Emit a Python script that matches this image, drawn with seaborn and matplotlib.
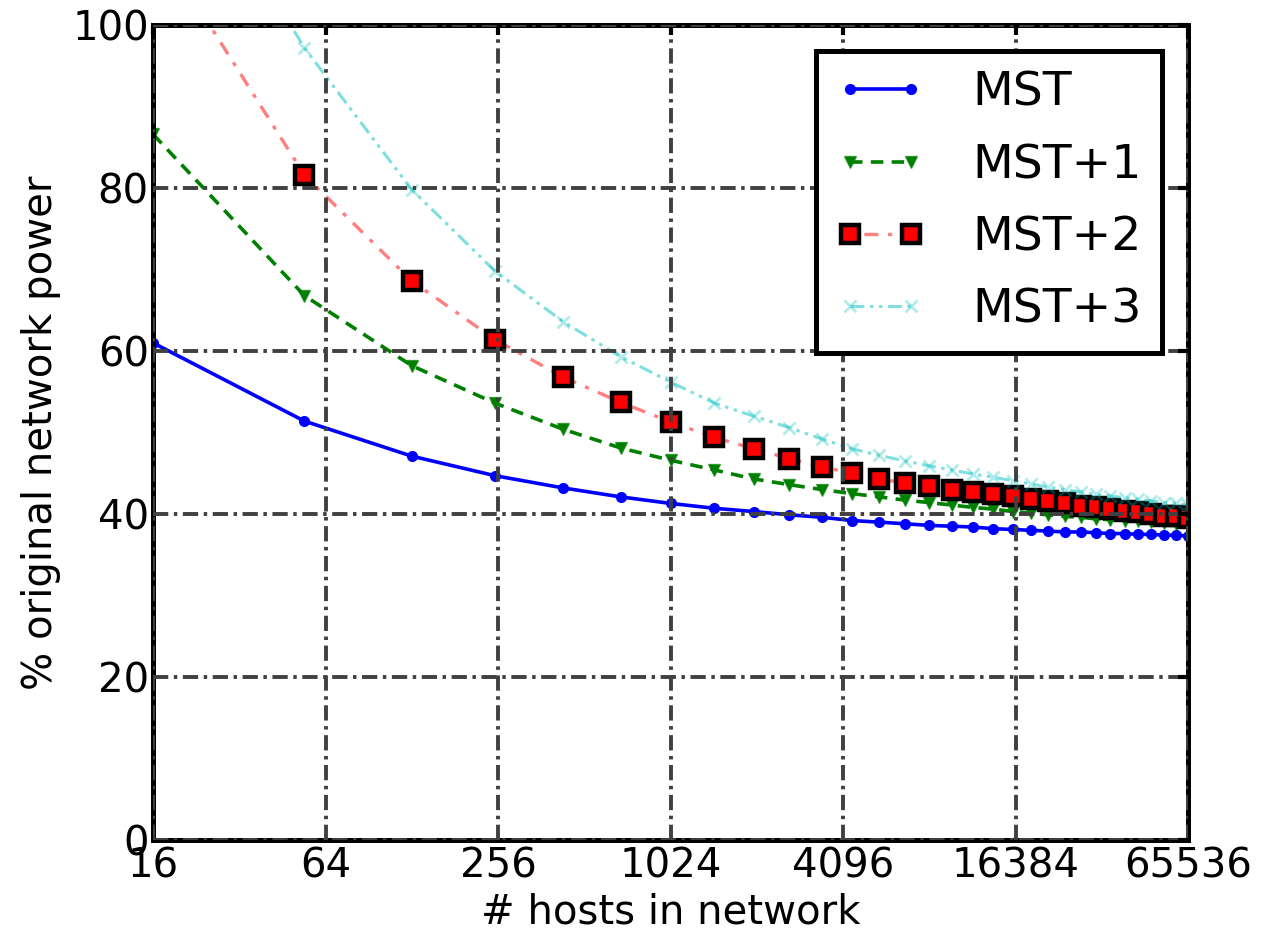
import matplotlib
matplotlib.use('Agg')
import matplotlib.pyplot as plt
import seaborn as sns
from matplotlib.ticker import FixedLocator, FixedFormatter, NullLocator

# ---------------- data ----------------
hosts = [16, 54, 128, 250, 432, 686, 1024, 1458, 2000, 2662, 3456, 4394, 5488,
         6750, 8192, 9826, 11664, 13718, 16000, 18522, 21296, 24334, 27648,
         31250, 35152, 39366, 43904, 48778, 54000, 59582, 65536]

mst = [61.0, 51.4, 47.1, 44.7, 43.2, 42.1, 41.3, 40.7, 40.3, 39.9, 39.6, 39.2,
       39.0, 38.8, 38.6, 38.5, 38.4, 38.2, 38.1, 38.0, 37.9, 37.8, 37.8, 37.7,
       37.6, 37.6, 37.5, 37.5, 37.4, 37.4, 37.3]
mst1 = [86.6, 66.8, 58.2, 53.6, 50.4, 48.1, 46.6, 45.4, 44.3, 43.6, 43.0, 42.5,
        42.1, 41.7, 41.4, 41.1, 40.8, 40.6, 40.3, 40.1, 39.9, 39.7, 39.6, 39.4,
        39.3, 39.2, 39.1, 39.0, 38.9, 38.8, 38.7]
mst2 = [111.0, 81.6, 68.6, 61.4, 56.8, 53.7, 51.3, 49.4, 48.0, 46.8, 45.8, 45.0,
        44.3, 43.8, 43.4, 43.0, 42.7, 42.4, 42.2, 41.9, 41.6, 41.3, 41.0, 40.8,
        40.6, 40.4, 40.2, 40.0, 39.8, 39.7, 39.5]
mst3 = [128.0, 97.2, 79.8, 69.8, 63.6, 59.3, 56.2, 53.6, 52.0, 50.6, 49.2, 48.0,
        47.2, 46.5, 45.9, 45.4, 44.9, 44.5, 44.1, 43.7, 43.3, 43.0, 42.7, 42.4,
        42.2, 42.0, 41.8, 41.6, 41.4, 41.3, 41.1]

series_names = ['MST', 'MST+1', 'MST+2', 'MST+3']
xtick_vals = [16, 64, 256, 1024, 4096, 16384, 65536]
xtick_labels = ['16', '64', '256', '1024', '4096', '16384', '65536']
ytick_vals = [0, 20, 40, 60, 80, 100]

# ---------------- style ----------------
sns.set_style('white')
plt.rcParams['font.family'] = ['DejaVu Sans']
plt.rcParams['lines.scale_dashes'] = False
plt.rcParams['text.color'] = 'black'
plt.rcParams['axes.labelcolor'] = 'black'
plt.rcParams['xtick.color'] = 'black'
plt.rcParams['ytick.color'] = 'black'

fig = plt.figure(figsize=(12.61, 9.33), dpi=100)
ax = fig.add_axes([153 / 1261, 1 - 840 / 933, (1188 - 153) / 1261, (840 - 25) / 933])

styles = [
    dict(color='#0000ff', linestyle='-', linewidth=2.6, marker='o', markersize=7,
         markerfacecolor='#0000ff', markeredgecolor='#0000ff', markeredgewidth=1),
    dict(color='#008000', linestyle=(0, (9, 6)), linewidth=2.6, marker='v', markersize=9,
         markerfacecolor='#008000', markeredgecolor=(0, 0.5, 0, 0.6), markeredgewidth=1),
    dict(color=(1, 0, 0, 0.5), linestyle=(0, (3, 7, 10, 7)), linewidth=2.4, marker='s',
         markersize=13, markerfacecolor='#ff0000', markeredgecolor='black', markeredgewidth=3.2),
    dict(color=(0, 0.75, 0.75, 0.5), linestyle=(0, (10, 4, 2.5, 4, 2.5, 4)), linewidth=2.2,
         marker='x', markersize=9, markerfacecolor='none',
         markeredgecolor=(0, 0.75, 0.75, 0.3), markeredgewidth=2),
]

for name, vals, st in zip(series_names, [mst, mst1, mst2, mst3], styles):
    sns.lineplot(x=hosts, y=vals, ax=ax, label=name, sort=False, **st)

ax.set_xscale('log', base=2)
ax.set_xlim(16, 65536)
ax.set_ylim(0, 100)
ax.xaxis.set_major_locator(FixedLocator(xtick_vals))
ax.xaxis.set_major_formatter(FixedFormatter(xtick_labels))
ax.xaxis.set_minor_locator(NullLocator())
ax.set_yticks(ytick_vals)
ax.set_yticklabels([str(v) for v in ytick_vals])

ax.grid(True, which='major', color='#404040', linewidth=2.8,
        linestyle=(0, (11, 4, 2.5, 4)))
ax.set_axisbelow(False)

ax.tick_params(axis='both', which='major', direction='in', length=7, width=3,
               top=True, right=True, labelsize=29, colors='black')
ax.tick_params(axis='x', pad=5)
ax.tick_params(axis='y', pad=3)

for sp in ax.spines.values():
    sp.set_visible(True)
    sp.set_linewidth(3.6)
    sp.set_color('black')

ax.set_xlabel('# hosts in network', fontsize=29, labelpad=4, color='black')
ax.set_ylabel('% original network power', fontsize=29, labelpad=8, color='black')

leg = ax.legend(loc='upper right', fontsize=34, numpoints=2, handlelength=1.9,
                handletextpad=1.0, borderaxespad=0.55, labelspacing=0.58,
                borderpad=0.42, fancybox=False, framealpha=1, edgecolor='black')
leg.get_frame().set_linewidth(3.6)
for t in leg.get_texts():
    t.set_color('black')

fig.savefig('out.png', dpi=100)
